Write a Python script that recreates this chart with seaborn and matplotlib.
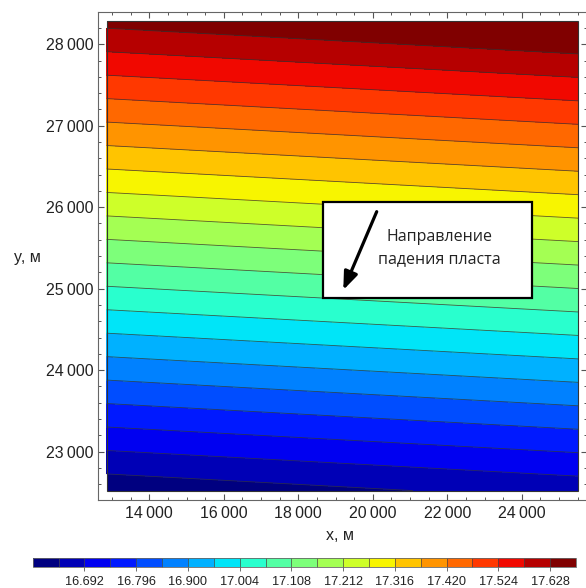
import numpy as np
import matplotlib
matplotlib.use("Agg")
import matplotlib.pyplot as plt
import matplotlib.patches as mpatches
from matplotlib.ticker import MultipleLocator, FixedLocator, FuncFormatter
import seaborn as sns

# ---- data ----
x_grid = [12856, 25517]                 # x, m (edges of the mapped area)
y_grid = [22522, 28290]                 # y, m
z_values = [[16.603, 16.660],           # row at y_grid[0]
            [17.645, 17.702]]           # row at y_grid[1]
inner_levels = [16.640, 16.692, 16.744, 16.796, 16.848, 16.900, 16.952, 17.004,
                17.056, 17.108, 17.160, 17.212, 17.264, 17.316, 17.368, 17.420,
                17.472, 17.524, 17.576, 17.628]
level_min = 16.588
level_max = 17.710
cbar_ticks = [16.692, 16.796, 16.900, 17.004, 17.108, 17.212, 17.316, 17.420, 17.524, 17.628]
x_ticks = [14000, 16000, 18000, 20000, 22000, 24000]
y_ticks = [23000, 24000, 25000, 26000, 27000, 28000]
note_lines = ["Направление", "падения пласта"]
x_label = "x, м"
y_label = "y, м"

sns.set_theme(style="ticks")
plt.rcParams["font.family"] = ["Liberation Sans", "DejaVu Sans"]

levels = [level_min] + inner_levels + [level_max]
n_bands = len(levels) - 1
band_colors = sns.color_palette(list(plt.get_cmap("jet")(np.linspace(0, 1, n_bands))))

X, Y = np.meshgrid(np.array(x_grid, float), np.array(y_grid, float))
Z = np.array(z_values, float)

fig = plt.figure(figsize=(5.86, 5.88), dpi=100)
ax = fig.add_axes([0.1667, 0.1497, 0.835, 0.8304])

cs = ax.contourf(X, Y, Z, levels=levels, colors=band_colors)
ax.contour(X, Y, Z, levels=inner_levels, colors="#333333", linewidths=0.6, alpha=0.8)
ax.add_patch(mpatches.Rectangle((x_grid[0], y_grid[0]), x_grid[1] - x_grid[0],
                                y_grid[1] - y_grid[0], fill=False,
                                edgecolor="#333333", lw=0.8, zorder=3))

ax.set_xlim(12615, 25750)
ax.set_ylim(22407, 28399)

fmt = FuncFormatter(lambda v, p: f"{int(v) // 1000}\u2009{int(v) % 1000:03d}")
ax.xaxis.set_major_locator(FixedLocator(x_ticks))
ax.yaxis.set_major_locator(FixedLocator(y_ticks))
ax.xaxis.set_minor_locator(MultipleLocator(500))
ax.yaxis.set_minor_locator(MultipleLocator(200))
ax.xaxis.set_major_formatter(fmt)
ax.yaxis.set_major_formatter(fmt)
ax.tick_params(which="both", direction="in", top=True, right=True,
               color="#555555", labelsize=11.5, labelcolor="#222222")
ax.tick_params(which="major", length=4, width=0.8)
ax.tick_params(which="minor", length=2.2, width=0.7)
ax.tick_params(axis="x", which="major", pad=4.5)
ax.tick_params(axis="y", which="major", pad=3)
for sp in ax.spines.values():
    sp.set_color("#666666")
    sp.set_linewidth(0.8)

ax.set_xlabel(x_label, fontsize=11.5, color="#222222")
ax.xaxis.set_label_coords(0.495, -0.057)
ax.set_ylabel(y_label, fontsize=11.5, color="#222222", rotation=0, ha="center", va="center")
ax.yaxis.set_label_coords(-0.1445, 0.4956)

# annotation box with arrow
ax.add_patch(mpatches.Rectangle((18655, 24882), 24266 - 18655, 26067 - 24882,
                                facecolor="white", edgecolor="black", lw=1.6, zorder=5))
ax.annotate("", xy=(19208, 24984), xytext=(20105, 25945),
            arrowprops=dict(arrowstyle="-|>,head_length=0.9,head_width=0.35",
                            color="black", lw=2.3, shrinkA=0, shrinkB=0),
            zorder=6)
ax.text(21804, 25634, note_lines[0], ha="center", va="center", fontsize=11.5,
        family=["Open Sans", "DejaVu Sans"], color="#222222", zorder=6)
ax.text(21790, 25360, note_lines[1], ha="center", va="center", fontsize=11.5,
        family=["Open Sans", "DejaVu Sans"], color="#222222", zorder=6)

# colorbar
cax = fig.add_axes([0.0558, 0.0352, 0.9271, 0.0153])
cb = fig.colorbar(cs, cax=cax, orientation="horizontal", spacing="uniform",
                  ticks=cbar_ticks, drawedges=True)
cb.dividers.set_color("#444444")
cb.dividers.set_linewidth(0.5)
cb.outline.set_edgecolor("#666666")
cb.outline.set_linewidth(0.6)
cb.ax.set_xticklabels([f"{t:.3f}" for t in cbar_ticks])
cb.ax.tick_params(direction="out", length=3, width=0.6, color="#555555",
                  labelsize=9.2, labelcolor="#222222", pad=3.5)
cb.ax.minorticks_off()

fig.savefig("out.png", dpi=100)
